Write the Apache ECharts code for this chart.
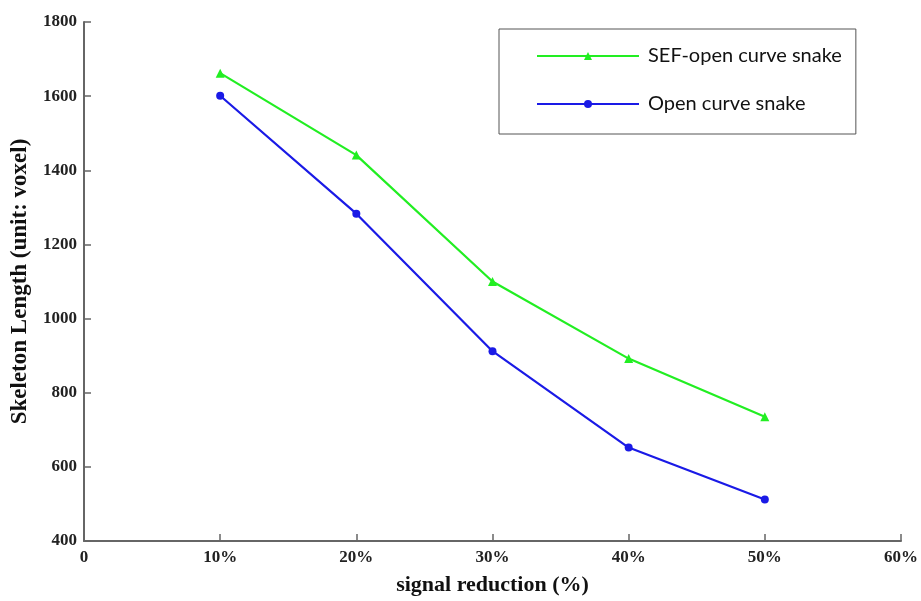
<!DOCTYPE html>
<html><head><meta charset="utf-8">
<script src="https://cdn.jsdelivr.net/npm/echarts@6/dist/echarts.min.js"></script>
<style>html,body{margin:0;padding:0;background:#fff}#c{width:921px;height:601px}</style>
</head><body><div id="c"></div>
<script>
const reductions = [10, 20, 30, 40, 50];
const sefOpenCurve = [1662, 1441, 1100, 892, 735];
const openCurve = [1601, 1283, 912, 652, 512];
const seriesNames = ['SEF-open curve snake', 'Open curve snake'];
const xAxisTitle = 'signal reduction (%)';
const yAxisTitle = 'Skeleton Length (unit: voxel)';

const pairs = vals => reductions.map((x, i) => [x, vals[i]]);
const serif = '"Liberation Serif", "DejaVu Serif", serif';
const chart = echarts.init(document.getElementById('c'), null, {renderer: 'canvas'});
chart.setOption({
  animation: false,
  backgroundColor: '#fff',
  grid: {left: 84, right: 19, top: 22, bottom: 58},
  legend: {
    orient: 'vertical', left: 499, top: 29,
    padding: [17, 14, 20, 37],
    borderColor: '#555', borderWidth: 1,
    itemWidth: 102, itemHeight: 10, itemGap: 28,
    textStyle: {fontFamily: 'Lato, "Open Sans", sans-serif', fontSize: 20, color: '#111', padding: [0,0,0,4]},
    data: seriesNames.map(n => ({name: n}))
  },
  xAxis: {
    type: 'value', min: 0, max: 60, interval: 10,
    name: xAxisTitle, nameLocation: 'middle', nameGap: 33,
    nameTextStyle: {fontFamily: serif, fontWeight: 'bold', fontSize: 22, color: '#111'},
    axisLine: {lineStyle: {color: '#666', width: 2}},
    axisTick: {inside: true, length: 7, lineStyle: {color: '#666', width: 1.5}},
    splitLine: {show: false},
    axisLabel: {fontFamily: serif, fontSize: 17, fontWeight: 'bold', color: '#222', margin: 8,
      formatter: v => v === 0 ? '0' : v + '%'}
  },
  yAxis: {
    type: 'value', min: 400, max: 1800, interval: 200,
    name: yAxisTitle, nameLocation: 'middle', nameGap: 52,
    nameTextStyle: {fontFamily: serif, fontWeight: 'bold', fontSize: 23, color: '#111'},
    axisLine: {show: true, lineStyle: {color: '#666', width: 2}},
    axisTick: {show: true, inside: true, length: 7, lineStyle: {color: '#666', width: 1.5}},
    splitLine: {show: false},
    axisLabel: {fontFamily: serif, fontSize: 17, fontWeight: 'bold', color: '#222', margin: 7,
      formatter: v => String(v)}
  },
  series: [
    {name: seriesNames[0], type: 'line', data: pairs(sefOpenCurve),
     symbol: 'triangle', symbolSize: 9, color: '#22ee22',
     lineStyle: {width: 2.2, color: '#22ee22'}, itemStyle: {color: '#22ee22'}},
    {name: seriesNames[1], type: 'line', data: pairs(openCurve),
     symbol: 'circle', symbolSize: 8, color: '#1a1ae6',
     lineStyle: {width: 2.2, color: '#1a1ae6'}, itemStyle: {color: '#1a1ae6'}}
  ]
});
</script></body></html>
